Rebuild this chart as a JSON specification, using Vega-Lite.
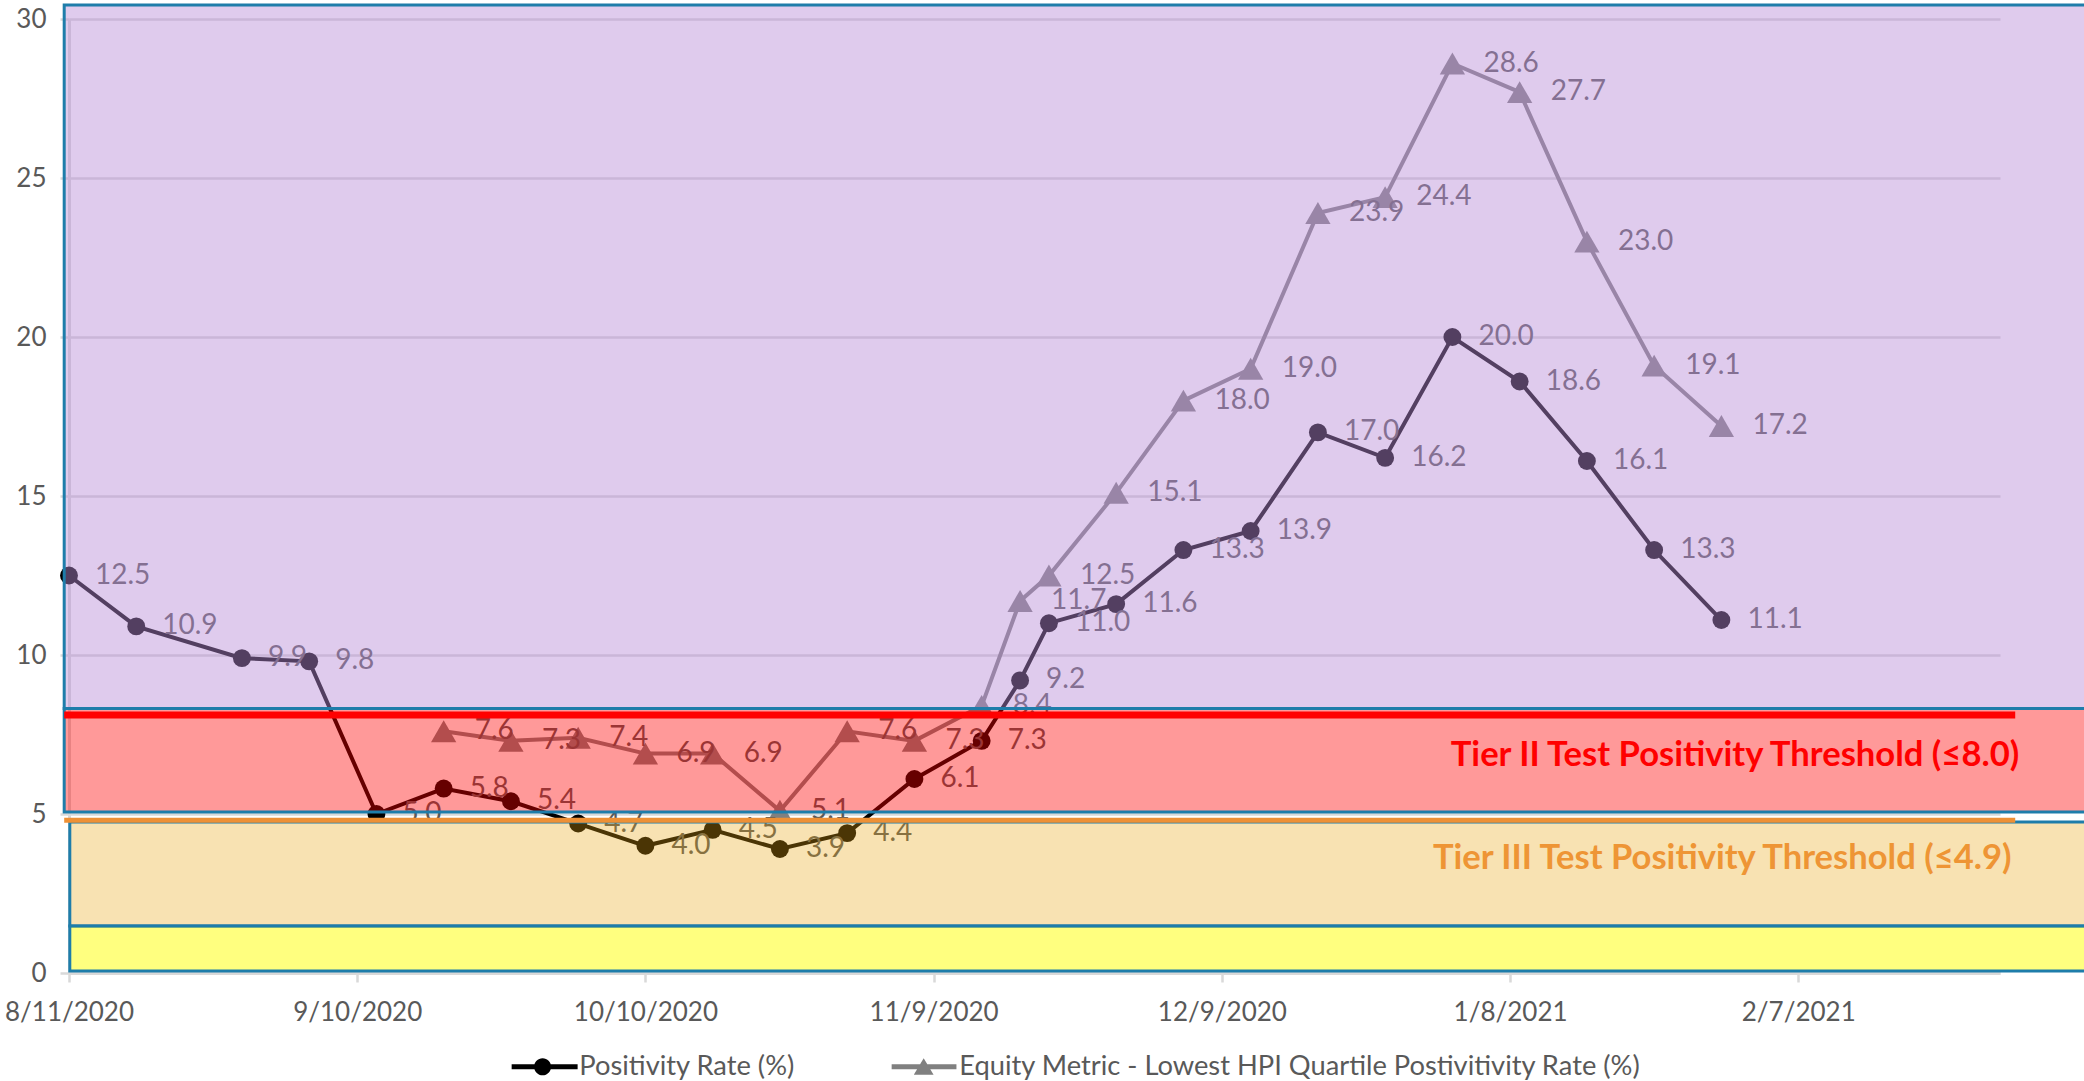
{
  "$schema": "https://vega.github.io/schema/vega-lite/v6.json",
  "width": 1931,
  "height": 954,
  "autosize": {"type": "none"},
  "padding": {"left": 69, "top": 19, "right": 84, "bottom": 108},
  "background": "white",
  "config": {"view": {"stroke": null}, "font": "Lato"},
  "datasets": {
    "pts": [
      {"date": "2020-08-11", "series": "Positivity Rate (%)", "value": 12.5},
      {"date": "2020-08-18", "series": "Positivity Rate (%)", "value": 10.9},
      {"date": "2020-08-29", "series": "Positivity Rate (%)", "value": 9.9},
      {"date": "2020-09-05", "series": "Positivity Rate (%)", "value": 9.8},
      {"date": "2020-09-12", "series": "Positivity Rate (%)", "value": 5.0},
      {"date": "2020-09-19", "series": "Positivity Rate (%)", "value": 5.8},
      {"date": "2020-09-26", "series": "Positivity Rate (%)", "value": 5.4},
      {"date": "2020-10-03", "series": "Positivity Rate (%)", "value": 4.7},
      {"date": "2020-10-10", "series": "Positivity Rate (%)", "value": 4.0},
      {"date": "2020-10-17", "series": "Positivity Rate (%)", "value": 4.5},
      {"date": "2020-10-24", "series": "Positivity Rate (%)", "value": 3.9},
      {"date": "2020-10-31", "series": "Positivity Rate (%)", "value": 4.4},
      {"date": "2020-11-07", "series": "Positivity Rate (%)", "value": 6.1},
      {"date": "2020-11-14", "series": "Positivity Rate (%)", "value": 7.3},
      {"date": "2020-11-18", "series": "Positivity Rate (%)", "value": 9.2},
      {"date": "2020-11-21", "series": "Positivity Rate (%)", "value": 11.0},
      {"date": "2020-11-28", "series": "Positivity Rate (%)", "value": 11.6},
      {"date": "2020-12-05", "series": "Positivity Rate (%)", "value": 13.3},
      {"date": "2020-12-12", "series": "Positivity Rate (%)", "value": 13.9},
      {"date": "2020-12-19", "series": "Positivity Rate (%)", "value": 17.0},
      {"date": "2020-12-26", "series": "Positivity Rate (%)", "value": 16.2},
      {"date": "2021-01-02", "series": "Positivity Rate (%)", "value": 20.0},
      {"date": "2021-01-09", "series": "Positivity Rate (%)", "value": 18.6},
      {"date": "2021-01-16", "series": "Positivity Rate (%)", "value": 16.1},
      {"date": "2021-01-23", "series": "Positivity Rate (%)", "value": 13.3},
      {"date": "2021-01-30", "series": "Positivity Rate (%)", "value": 11.1},
      {"date": "2020-09-19", "series": "Equity Metric - Lowest HPI Quartile Postivitivity Rate (%)", "value": 7.6},
      {"date": "2020-09-26", "series": "Equity Metric - Lowest HPI Quartile Postivitivity Rate (%)", "value": 7.3},
      {"date": "2020-10-03", "series": "Equity Metric - Lowest HPI Quartile Postivitivity Rate (%)", "value": 7.4},
      {"date": "2020-10-10", "series": "Equity Metric - Lowest HPI Quartile Postivitivity Rate (%)", "value": 6.9},
      {"date": "2020-10-17", "series": "Equity Metric - Lowest HPI Quartile Postivitivity Rate (%)", "value": 6.9},
      {"date": "2020-10-24", "series": "Equity Metric - Lowest HPI Quartile Postivitivity Rate (%)", "value": 5.1},
      {"date": "2020-10-31", "series": "Equity Metric - Lowest HPI Quartile Postivitivity Rate (%)", "value": 7.6},
      {"date": "2020-11-07", "series": "Equity Metric - Lowest HPI Quartile Postivitivity Rate (%)", "value": 7.3},
      {"date": "2020-11-14", "series": "Equity Metric - Lowest HPI Quartile Postivitivity Rate (%)", "value": 8.4},
      {"date": "2020-11-18", "series": "Equity Metric - Lowest HPI Quartile Postivitivity Rate (%)", "value": 11.7},
      {"date": "2020-11-21", "series": "Equity Metric - Lowest HPI Quartile Postivitivity Rate (%)", "value": 12.5},
      {"date": "2020-11-28", "series": "Equity Metric - Lowest HPI Quartile Postivitivity Rate (%)", "value": 15.1},
      {"date": "2020-12-05", "series": "Equity Metric - Lowest HPI Quartile Postivitivity Rate (%)", "value": 18.0},
      {"date": "2020-12-12", "series": "Equity Metric - Lowest HPI Quartile Postivitivity Rate (%)", "value": 19.0},
      {"date": "2020-12-19", "series": "Equity Metric - Lowest HPI Quartile Postivitivity Rate (%)", "value": 23.9},
      {"date": "2020-12-26", "series": "Equity Metric - Lowest HPI Quartile Postivitivity Rate (%)", "value": 24.4},
      {"date": "2021-01-02", "series": "Equity Metric - Lowest HPI Quartile Postivitivity Rate (%)", "value": 28.6},
      {"date": "2021-01-09", "series": "Equity Metric - Lowest HPI Quartile Postivitivity Rate (%)", "value": 27.7},
      {"date": "2021-01-16", "series": "Equity Metric - Lowest HPI Quartile Postivitivity Rate (%)", "value": 23.0},
      {"date": "2021-01-23", "series": "Equity Metric - Lowest HPI Quartile Postivitivity Rate (%)", "value": 19.1},
      {"date": "2021-01-30", "series": "Equity Metric - Lowest HPI Quartile Postivitivity Rate (%)", "value": 17.2}
    ]
  },
  "encoding": {
    "x": {
      "field": "date", "type": "temporal",
      "scale": {"type": "utc", "nice": false, "domain": [{"year": 2020, "month": 8, "date": 11, "utc": true}, {"year": 2021, "month": 2, "date": 28, "utc": true}]},
      "axis": {
        "title": null,
        "values": [
          {"year": 2020, "month": 8, "date": 11, "utc": true},
          {"year": 2020, "month": 9, "date": 10, "utc": true},
          {"year": 2020, "month": 10, "date": 10, "utc": true},
          {"year": 2020, "month": 11, "date": 9, "utc": true},
          {"year": 2020, "month": 12, "date": 9, "utc": true},
          {"year": 2021, "month": 1, "date": 8, "utc": true},
          {"year": 2021, "month": 2, "date": 7, "utc": true}
        ],
        "format": "%-m/%-d/%Y",
        "grid": false,
        "domainColor": "#D9D9D9", "domainWidth": 3,
        "tickColor": "#D9D9D9", "tickWidth": 2.5, "tickSize": 9,
        "labelFont": "Lato", "labelFontSize": 26, "labelColor": "#595959",
        "labelPadding": 17, "labelFlush": false, "labelOverlap": false
      }
    },
    "y": {
      "field": "value", "type": "quantitative",
      "scale": {"domain": [0, 30], "nice": false},
      "axis": {
        "title": null,
        "values": [0, 5, 10, 15, 20, 25, 30],
        "grid": true, "gridColor": "#D9D9D9", "gridWidth": 2.5,
        "domainColor": "#D9D9D9", "domainWidth": 3,
        "tickColor": "#D9D9D9", "tickWidth": 2.5, "tickSize": 9,
        "labelFont": "Lato", "labelFontSize": 26, "labelColor": "#595959",
        "labelPadding": 14
      }
    }
  },
  "layer": [
    {
      "data": {"name": "pts"},
      "transform": [{"filter": "datum.series != 'Positivity Rate (%)'"}],
      "mark": {"type": "line", "color": "#808080", "strokeWidth": 4}
    },
    {
      "data": {"name": "pts"},
      "transform": [{"filter": "datum.series == 'Positivity Rate (%)'"}],
      "mark": {"type": "line", "color": "#000000", "strokeWidth": 4}
    },
    {
      "data": {"name": "pts"},
      "transform": [{"filter": "datum.series != 'Positivity Rate (%)'"}],
      "mark": {"type": "point", "shape": "triangle-up", "filled": true, "color": "#808080", "size": 640, "opacity": 1}
    },
    {
      "data": {"name": "pts"},
      "transform": [{"filter": "datum.series == 'Positivity Rate (%)'"}],
      "mark": {"type": "point", "shape": "circle", "filled": true, "color": "#000000", "size": 320, "opacity": 1}
    },
    {
      "data": {"name": "pts"},
      "transform": [{"filter": "datum.series != 'Positivity Rate (%)'"}],
      "mark": {"type": "text", "align": "left", "baseline": "middle", "dx": 31, "font": "Lato", "fontSize": 28, "color": "#595959"},
      "encoding": {"text": {"field": "value", "type": "quantitative", "format": ".1f"}}
    },
    {
      "data": {"name": "pts"},
      "transform": [{"filter": "datum.series == 'Positivity Rate (%)'"}],
      "mark": {"type": "text", "align": "left", "baseline": "middle", "dx": 26, "font": "Lato", "fontSize": 28, "color": "#595959"},
      "encoding": {"text": {"field": "value", "type": "quantitative", "format": ".1f"}}
    },
    {
      "data": {"values": [{"date": "2020-08-10T12:00:00Z", "date2": "2021-03-15T00:00:00Z", "value": 8.32, "value2": 30.44}]},
      "mark": {"type": "rect", "fill": "#B98CD7", "fillOpacity": 0.45, "stroke": "#1E7DAA", "strokeWidth": 3, "strokeOpacity": 1},
      "encoding": {"x2": {"field": "date2"}, "y2": {"field": "value2"}}
    },
    {
      "data": {"values": [{"date": "2020-08-10T12:00:00Z", "date2": "2021-03-15T00:00:00Z", "value": 5.06, "value2": 8.32}]},
      "mark": {"type": "rect", "fill": "#FF0000", "fillOpacity": 0.4, "stroke": "#1E7DAA", "strokeWidth": 3, "strokeOpacity": 1},
      "encoding": {"x2": {"field": "date2"}, "y2": {"field": "value2"}}
    },
    {
      "data": {"values": [{"date": "2020-08-11T02:00:00Z", "date2": "2021-03-15T00:00:00Z", "value": 1.48, "value2": 4.75}]},
      "mark": {"type": "rect", "fill": "#EAA50F", "fillOpacity": 0.32, "stroke": "#1E7DAA", "strokeWidth": 3, "strokeOpacity": 1},
      "encoding": {"x2": {"field": "date2"}, "y2": {"field": "value2"}}
    },
    {
      "data": {"values": [{"date": "2020-08-11T02:00:00Z", "date2": "2021-03-15T00:00:00Z", "value": 0.06, "value2": 1.48}]},
      "mark": {"type": "rect", "fill": "#FFFF00", "fillOpacity": 0.5, "stroke": "#1E7DAA", "strokeWidth": 3, "strokeOpacity": 1},
      "encoding": {"x2": {"field": "date2"}, "y2": {"field": "value2"}}
    },
    {
      "data": {"values": [{"date": "2020-08-10T12:00:00Z", "date2": "2021-03-01T14:00:00Z", "value": 8.11}]},
      "mark": {"type": "rule", "color": "#FF0000", "strokeWidth": 7},
      "encoding": {"x2": {"field": "date2"}}
    },
    {
      "data": {"values": [{"date": "2020-08-10T12:00:00Z", "date2": "2021-03-01T14:00:00Z", "value": 4.8}]},
      "mark": {"type": "rule", "color": "#EE9035", "strokeWidth": 5},
      "encoding": {"x2": {"field": "date2"}}
    },
    {
      "data": {"values": [{"date": "2021-03-02T00:00:00Z", "value": 6.82, "label": "Tier II Test Positivity Threshold (≤8.0)"}]},
      "mark": {"type": "text", "align": "right", "baseline": "middle", "font": "Lato", "fontWeight": "bold", "fontSize": 34.6, "color": "#FF0000"},
      "encoding": {"text": {"field": "label"}}
    },
    {
      "data": {"values": [{"date": "2021-03-01T05:00:00Z", "value": 3.58, "label": "Tier III Test Positivity Threshold (≤4.9)"}]},
      "mark": {"type": "text", "align": "right", "baseline": "middle", "font": "Lato", "fontWeight": "bold", "fontSize": 34.6, "color": "#EE9535"},
      "encoding": {"text": {"field": "label"}}
    },
    {
      "data": {"name": "pts"},
      "transform": [{"filter": "false"}],
      "mark": {"type": "point", "filled": true, "size": 324, "strokeWidth": 0, "opacity": 1},
      "encoding": {
        "color": {
          "field": "series", "type": "nominal",
          "scale": {"domain": ["Positivity Rate (%)", "Equity Metric - Lowest HPI Quartile Postivitivity Rate (%)"], "range": ["#000000", "#808080"]},
          "legend": {"orient": "none", "legendX": 438, "legendY": 1034, "direction": "horizontal", "title": null, "padding": 0, "symbolSize": 324, "symbolStrokeWidth": 0, "labelOffset": 45, "columnPadding": 92, "labelFont": "Lato", "labelFontSize": 27.3, "labelColor": "#595959", "labelLimit": 0}
        },
        "shape": {
          "field": "series", "type": "nominal",
          "scale": {"domain": ["Positivity Rate (%)", "Equity Metric - Lowest HPI Quartile Postivitivity Rate (%)"], "range": ["M-1,-0.28L6.33,-0.28L6.33,0.28L-1,0.28ZM3.39,0A0.95,0.95,0,1,1,1.49,0A0.95,0.95,0,1,1,3.39,0Z", "M-1,-0.28L6.2,-0.28L6.2,0.28L-1,0.28ZM2.56,-0.95L3.66,0.9L1.46,0.9Z"]},
          "legend": {"orient": "none", "legendX": 438, "legendY": 1034, "direction": "horizontal", "title": null, "padding": 0, "symbolSize": 324, "symbolStrokeWidth": 0, "labelOffset": 45, "columnPadding": 92, "labelFont": "Lato", "labelFontSize": 27.3, "labelColor": "#595959", "labelLimit": 0}
        }
      }
    }
  ]
}
